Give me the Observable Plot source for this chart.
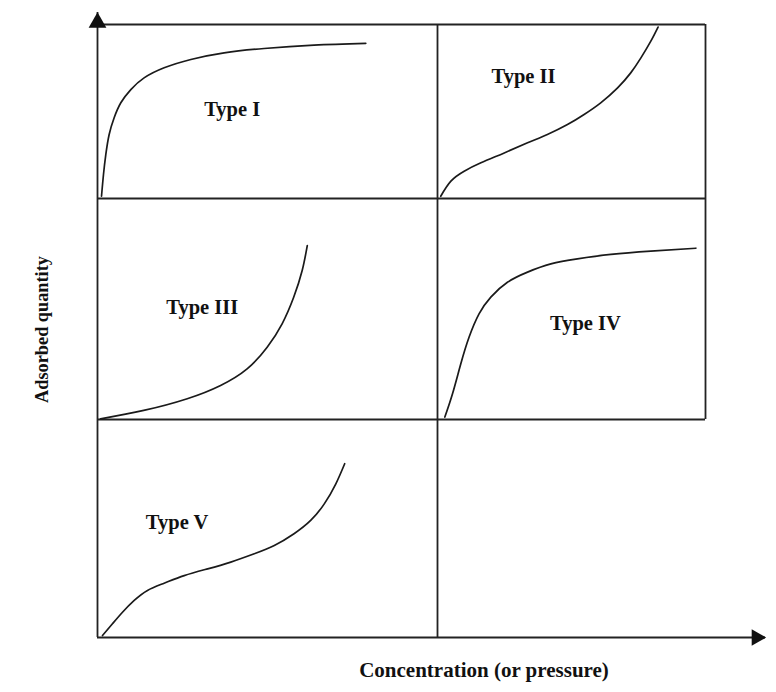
<!DOCTYPE html>
<html><head><meta charset="utf-8">
<script src="https://cdn.jsdelivr.net/npm/d3@7"></script>
<script src="https://cdn.jsdelivr.net/npm/@observablehq/plot@0.6"></script>
<style>body{margin:0;background:#fff;} #chart svg{display:block}</style>
</head><body><div id="chart"></div>
<script>
// Panel grid (arbitrary concentration / quantity units)
const colEdges = [0, 340, 608];
const rowEdges = [0, 218, 439, 613];
const xAxisEnd = 668;
const yAxisEnd = 625;

// Isotherm types and their panel (column, row from bottom)
const typeNames = ["Type I", "Type II", "Type III", "Type IV", "Type V"];
const typeCol = [0, 1, 0, 1, 0];
const typeRow = [2, 2, 1, 1, 0];

// Curves in panel-local fractions (u along x, v along y)
const typeI_u = [0.0118, 0.0176, 0.0245, 0.0343, 0.049, 0.0686, 0.098, 0.137, 0.196, 0.2745, 0.3725, 0.490, 0.637, 0.789];
const typeI_v = [0.013, 0.138, 0.253, 0.368, 0.464, 0.550, 0.626, 0.693, 0.751, 0.799, 0.837, 0.862, 0.881, 0.891];
const typeII_u = [0.012, 0.050, 0.0995, 0.162, 0.249, 0.336, 0.410, 0.485, 0.547, 0.609, 0.672, 0.721, 0.759, 0.796, 0.823];
const typeII_v = [0.013, 0.100, 0.157, 0.205, 0.262, 0.320, 0.368, 0.425, 0.483, 0.550, 0.636, 0.722, 0.808, 0.904, 0.985];
const typeIII_u = [0.009, 0.136, 0.264, 0.362, 0.440, 0.499, 0.543, 0.577, 0.602, 0.617];
const typeIII_v = [0.003, 0.041, 0.094, 0.154, 0.229, 0.327, 0.433, 0.553, 0.674, 0.787];
const typeIV_u = [0.0274, 0.056, 0.087, 0.118, 0.155, 0.199, 0.261, 0.336, 0.423, 0.522, 0.647, 0.796, 0.964];
const typeIV_v = [0.011, 0.116, 0.252, 0.373, 0.478, 0.554, 0.621, 0.667, 0.704, 0.727, 0.747, 0.762, 0.775];
const typeV_u = [0.0147, 0.044, 0.0735, 0.108, 0.147, 0.196, 0.255, 0.324, 0.392, 0.461, 0.520, 0.578, 0.627, 0.667, 0.701, 0.727];
const typeV_v = [0.009, 0.063, 0.116, 0.170, 0.216, 0.249, 0.284, 0.315, 0.346, 0.384, 0.422, 0.476, 0.537, 0.613, 0.705, 0.797];

// Label anchor inside each panel (fractions)
const labelU = [0.396, 0.321, 0.308, 0.552, 0.234];
const labelV = [0.511, 0.701, 0.508, 0.434, 0.529];

const xTitle = "Concentration (or pressure)";
const yTitle = "Adsorbed quantity";

const curvesU = [typeI_u, typeII_u, typeIII_u, typeIV_u, typeV_u];
const curvesV = [typeI_v, typeII_v, typeIII_v, typeIV_v, typeV_v];

function toX(c, u) { return colEdges[c] + u * (colEdges[c + 1] - colEdges[c]); }
function toY(r, v) { return rowEdges[r] + v * (rowEdges[r + 1] - rowEdges[r]); }

const curvePts = [];
typeNames.forEach((name, i) => {
  curvesU[i].forEach((u, k) => {
    curvePts.push({type: name, x: toX(typeCol[i], u), y: toY(typeRow[i], curvesV[i][k])});
  });
});
const labels = typeNames.map((name, i) => ({text: name, x: toX(typeCol[i], labelU[i]), y: toY(typeRow[i], labelV[i])}));

// Frame segments
const hRules = [
  {y: rowEdges[1], x1: colEdges[0], x2: colEdges[2]},
  {y: rowEdges[2], x1: colEdges[0], x2: colEdges[2]},
  {y: rowEdges[3], x1: colEdges[0], x2: colEdges[2]},
  {y: rowEdges[0], x1: colEdges[0], x2: xAxisEnd}
];
const vRules = [
  {x: colEdges[0], y1: rowEdges[0], y2: yAxisEnd},
  {x: colEdges[1], y1: rowEdges[0], y2: rowEdges[3]},
  {x: colEdges[2], y1: rowEdges[1], y2: rowEdges[3]}
];

const ink = "#222";
const font = "'Liberation Serif', 'Times New Roman', serif";

const chart = Plot.plot({
  width: 776,
  height: 692,
  marginLeft: 97,
  marginRight: 11,
  marginTop: 12,
  marginBottom: 55,
  x: {domain: [0, xAxisEnd], axis: null},
  y: {domain: [0, yAxisEnd], axis: null},
  style: {fontFamily: font, background: "#fff"},
  marks: [
    Plot.ruleY(hRules, {y: "y", x1: "x1", x2: "x2", stroke: ink, strokeWidth: 1.8}),
    Plot.ruleX(vRules, {x: "x", y1: "y1", y2: "y2", stroke: ink, strokeWidth: 1.8}),
    Plot.dot([{x: colEdges[0], y: yAxisEnd}], {x: "x", y: "y", symbol: "triangle", r: 6.6, fill: "#111", stroke: "none", dy: 10}),
    Plot.dot([{x: xAxisEnd, y: rowEdges[0]}], {x: "x", y: "y", symbol: "triangle", r: 6.2, fill: "#111", stroke: "none", rotate: 90, dx: -9}),
    Plot.line(curvePts, {x: "x", y: "y", z: "type", curve: "natural", stroke: "#1a1a1a", strokeWidth: 1.7}),
    Plot.text(labels, {x: "x", y: "y", text: "text", fontSize: 20.5, fontWeight: "bold", fill: "#111"}),
    Plot.text([{text: xTitle, x: 386.5, y: -33}], {x: "x", y: "y", text: "text", fontSize: 21, fontWeight: "bold", fill: "#111"}),
    Plot.text([{text: yTitle, x: -55, y: 308}], {x: "x", y: "y", text: "text", fontSize: 18.3, fontWeight: "bold", fill: "#111", rotate: -90})
  ]
});
document.getElementById("chart").appendChild(chart);
</script>
</body></html>
